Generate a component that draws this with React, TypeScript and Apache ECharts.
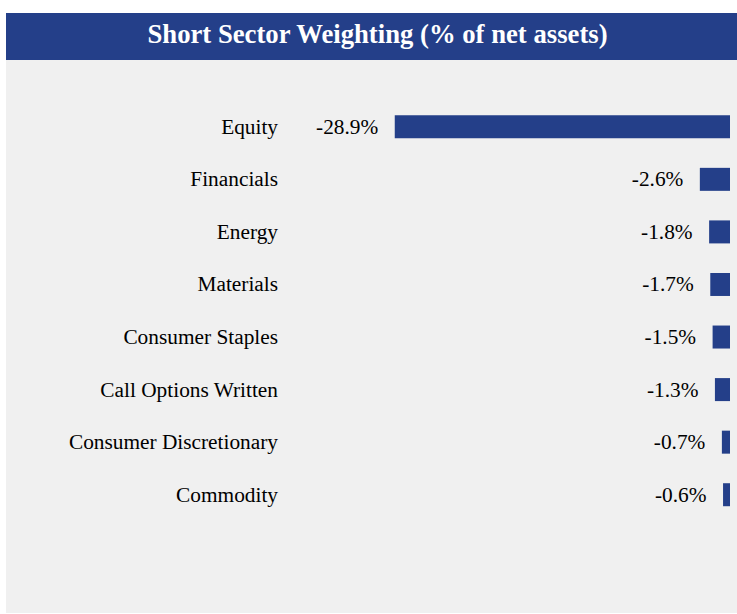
import React, { useEffect, useRef } from "react";
import * as echarts from "echarts";

const categories = [
  "Equity",
  "Financials",
  "Energy",
  "Materials",
  "Consumer Staples",
  "Call Options Written",
  "Consumer Discretionary",
  "Commodity",
];
const values = [-28.9, -2.6, -1.8, -1.7, -1.5, -1.3, -0.7, -0.6];
const titleText = "Short Sector Weighting (% of net assets)";

const BLUE = "#243F89";
const FONT = "'Liberation Serif', 'Times New Roman', serif";

export default function App() {
  const ref = useRef<HTMLDivElement>(null);
  useEffect(() => {
    if (!ref.current) return;
    const chart = echarts.init(ref.current, undefined, { renderer: "svg" });
    chart.setOption({
      animation: false,
      backgroundColor: "#ffffff",
      graphic: [
        { type: "rect", z: -10, shape: { x: 6, y: 13, width: 740, height: 600 }, style: { fill: "#F0F0F0" } },
        { type: "rect", z: -9, shape: { x: 6, y: 13, width: 740, height: 47 }, style: { fill: BLUE } },
        {
          type: "text",
          x: 377.5,
          y: 34,
          style: {
            text: titleText,
            fill: "#ffffff",
            font: `bold 26.7px ${FONT}`,
            align: "center",
            verticalAlign: "middle",
          },
        },
      ],
      grid: { left: 382, right: 7, top: 100.5, bottom: 93, containLabel: false },
      xAxis: { type: "value", min: -30, max: 0, show: false },
      yAxis: {
        type: "category",
        data: categories,
        inverse: true,
        axisLine: { show: false },
        axisTick: { show: false },
        splitLine: { show: false },
        axisLabel: {
          margin: 104,
          color: "#000000",
          fontFamily: FONT,
          fontSize: 21.33,
        },
      },
      series: [
        {
          type: "bar",
          data: values,
          barWidth: 23,
          itemStyle: { color: BLUE },
          label: {
            show: true,
            position: "left",
            distance: 16.5,
            color: "#000000",
            fontFamily: FONT,
            fontSize: 21.33,
            formatter: (p: any) => `${Number(p.value).toFixed(1)}%`,
          },
        },
      ],
    });
    return () => chart.dispose();
  }, []);
  return (
    <div
      ref={ref}
      style={{ position: "absolute", left: 0, top: 0, width: 737, height: 614 }}
    />
  );
}
